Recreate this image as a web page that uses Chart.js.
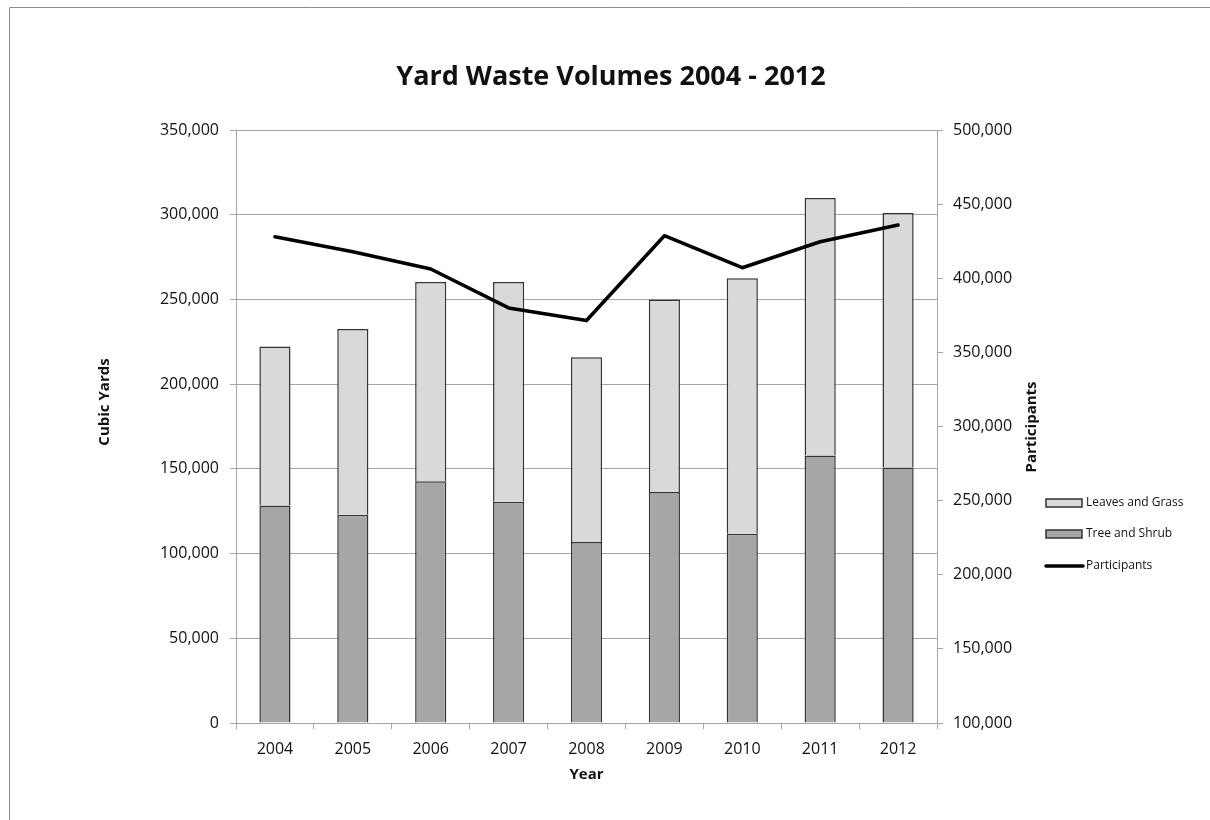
<!DOCTYPE html>
<html>
<head>
<meta charset="utf-8">
<title>Yard Waste Volumes 2004 - 2012</title>
<script src="https://cdn.jsdelivr.net/npm/chart.js@4.4.1/dist/chart.umd.min.js"></script>
<style>
  html, body { margin: 0; padding: 0; background: #ffffff; overflow: hidden; }
  #wrap { position: relative; width: 1210px; height: 820px; }
  canvas { display: block; }
</style>
</head>
<body>
<div id="wrap"><canvas id="chart" width="1210" height="820"></canvas></div>
<script>
// Yearly yard waste collected (cubic yards) and program participants
const years = ['2004', '2005', '2006', '2007', '2008', '2009', '2010', '2011', '2012'];
const treeAndShrub = [128400, 122900, 142700, 130600, 106900, 136400, 111700, 157900, 150800];
const leavesAndGrass = [93800, 109700, 117600, 129700, 108900, 113600, 150800, 152000, 150200];
const participants = [428000, 417900, 406200, 380000, 371500, 428700, 407100, 424600, 435900];

const FONT = "'Open Sans', 'Liberation Sans', sans-serif";
const AXIS_GREY = '#a6a6a6';
const TEXT = '#111111';

// Outer frame of the chart object (left and top edges are visible)
const framePlugin = {
  id: 'frame',
  beforeDraw(chart) {
    const ctx = chart.ctx;
    ctx.save();
    ctx.strokeStyle = '#8c8c8c';
    ctx.lineWidth = 1;
    ctx.beginPath();
    ctx.moveTo(9.5, chart.height);
    ctx.lineTo(9.5, 7.5);
    ctx.lineTo(chart.width, 7.5);
    ctx.stroke();
    ctx.restore();
  }
};

// Vertical axis titles, both reading bottom-to-top
const axisTitlePlugin = {
  id: 'axisTitles',
  afterDraw(chart) {
    const ctx = chart.ctx;
    const draw = (text, x, y) => {
      ctx.save();
      ctx.translate(x, y);
      ctx.rotate(-Math.PI / 2);
      ctx.font = "bold 15px " + FONT;
      ctx.fillStyle = TEXT;
      ctx.textAlign = 'center';
      ctx.textBaseline = 'middle';
      ctx.fillText(text, 0, 0);
      ctx.restore();
    };
    draw('Cubic Yards', 105, 402);
    draw('Participants', 1032, 427);
  }
};

// Legend stacked to the right of the secondary axis
const sideLegendPlugin = {
  id: 'sideLegend',
  afterDraw(chart) {
    const ctx = chart.ctx;
    const ds = chart.data.datasets;
    const items = [
      { d: ds[2], y: 503 },
      { d: ds[1], y: 534 },
      { d: ds[0], y: 566 }
    ];
    ctx.save();
    ctx.font = "12px " + FONT;
    ctx.textBaseline = 'middle';
    ctx.textAlign = 'left';
    items.forEach(({ d, y }) => {
      if (d.type === 'line') {
        ctx.strokeStyle = d.borderColor;
        ctx.lineWidth = 3.5;
        ctx.lineCap = 'round';
        ctx.beginPath();
        ctx.moveTo(1046, y);
        ctx.lineTo(1083, y);
        ctx.stroke();
      } else {
        ctx.fillStyle = d.backgroundColor;
        ctx.fillRect(1046, y - 4, 36, 8);
        ctx.strokeStyle = d.borderColor;
        ctx.lineWidth = 1.5;
        ctx.strokeRect(1046, y - 4, 36, 8);
      }
      ctx.fillStyle = TEXT;
      ctx.fillText(d.label, 1086, y);
    });
    ctx.restore();
  }
};

new Chart(document.getElementById('chart'), {
  data: {
    labels: years,
    datasets: [
      {
        type: 'line',
        label: 'Participants',
        data: participants,
        yAxisID: 'y1',
        borderColor: '#000000',
        backgroundColor: '#000000',
        borderWidth: 3.5,
        borderJoinStyle: 'round',
        borderCapStyle: 'round',
        pointRadius: 0,
        tension: 0,
        order: 0
      },
      {
        type: 'bar',
        label: 'Tree and Shrub',
        data: treeAndShrub,
        yAxisID: 'y',
        backgroundColor: '#a6a6a6',
        borderColor: '#333333',
        borderWidth: 1.5,
        barPercentage: 0.4,
        categoryPercentage: 1.0,
        order: 1
      },
      {
        type: 'bar',
        label: 'Leaves and Grass',
        data: leavesAndGrass,
        yAxisID: 'y',
        backgroundColor: '#d9d9d9',
        borderColor: '#333333',
        borderWidth: 1.5,
        barPercentage: 0.4,
        categoryPercentage: 1.0,
        order: 1
      }
    ]
  },
  options: {
    responsive: false,
    maintainAspectRatio: false,
    animation: false,
    devicePixelRatio: 1,
    layout: { padding: { top: 0, left: 12, right: 0, bottom: 27 } },
    plugins: {
      legend: { display: false },
      tooltip: { enabled: false },
      title: {
        display: true,
        text: 'Yard Waste Volumes 2004 - 2012',
        color: TEXT,
        font: { family: FONT, size: 27, weight: 'bold' },
        padding: { top: 61, bottom: 36.6 }
      }
    },
    scales: {
      x: {
        stacked: true,
        offset: true,
        border: { display: true, color: AXIS_GREY, width: 1 },
        grid: { display: true, drawOnChartArea: false, drawTicks: true, tickLength: 6, color: AXIS_GREY, offset: true },
        ticks: { color: TEXT, font: { family: FONT, size: 16 }, padding: 11 },
        title: {
          display: true,
          text: 'Year',
          color: TEXT,
          font: { family: FONT, size: 15, weight: 'bold' },
          padding: { top: 0, bottom: 9 }
        },
        afterFit(scale) { scale.height = 70; }
      },
      y: {
        type: 'linear',
        position: 'left',
        stacked: true,
        min: 0,
        max: 350000,
        border: { display: true, color: AXIS_GREY, width: 1 },
        grid: { color: AXIS_GREY, lineWidth: 1, tickLength: 6, drawTicks: true },
        ticks: { stepSize: 50000, color: TEXT, font: { family: FONT, size: 16 }, padding: 11 },
        afterFit(scale) { scale.width = 224; }
      },
      y1: {
        type: 'linear',
        position: 'right',
        min: 100000,
        max: 500000,
        border: { display: true, color: AXIS_GREY, width: 1 },
        grid: { drawOnChartArea: false, color: AXIS_GREY, tickLength: 6, drawTicks: true },
        ticks: { stepSize: 50000, color: TEXT, font: { family: FONT, size: 16 }, padding: 10 },
        afterFit(scale) { scale.width = 273; }
      }
    }
  },
  plugins: [framePlugin, axisTitlePlugin, sideLegendPlugin]
});
</script>
</body>
</html>
